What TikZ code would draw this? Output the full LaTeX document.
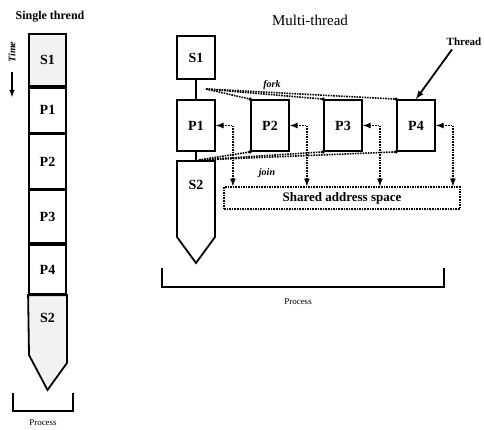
\documentclass[tikz,border=0pt]{standalone}
\usepackage{fontspec}
\setmainfont{Liberation Serif}
\begin{document}
\begin{tikzpicture}[x=1pt,y=-1pt,
    blocco/.style={draw,line width=1.8pt,minimum width=38pt,inner sep=0pt,font=\fontsize{14}{16}\selectfont\bfseries},
    grigio/.style={fill=gray!10},
    punt/.style={densely dotted,line width=1.6pt},
    freccia/.style={punt,latex-latex},
    etich/.style={font=\fontsize{9}{11}\selectfont}]
    \useasboundingbox (0,0) rectangle (484,430);
    %colonna single thread
    \node[font=\fontsize{12}{14}\selectfont\bfseries] (tsingle) at (50,17) {Single thrend};
    \node[blocco,grigio,minimum width=37pt,minimum height=52pt] (ls1) at (47.5,60) {S1};
    \node[blocco,minimum width=37pt,minimum height=45pt,anchor=north] (lp1) at (ls1.south) {P1};
    \node[blocco,minimum width=37pt,minimum height=54pt,anchor=north] (lp2) at (lp1.south) {P2};
    \node[blocco,minimum width=37pt,minimum height=53pt,anchor=north] (lp3) at (lp2.south) {P3};
    \node[blocco,minimum width=37pt,minimum height=49pt,anchor=north] (lp4) at (lp3.south) {P4};
    \draw[line width=1.8pt,grigio] (lp4.south west) -- (lp4.south east) --++ (0,68) -- (47.5,390) -- (29,355) -- cycle;
    \node[font=\fontsize{14}{16}\selectfont\bfseries] (ls2) at (47.5,318) {S2};
    %tempo
    \node[rotate=90,font=\fontsize{10}{12}\selectfont\bfseries\itshape] (ltime) at (12,52) {Time};
    \draw[-latex,line width=1.4pt] (12,72) -- (12,97);
    %parentesi
    \draw[line width=1.4pt] (13,393) -- (13,411) -- (73,411) -- (73,393);
    \node[etich] (lproc) at (43,423) {Process};
    %colonna multi thread
    \node[font=\fontsize{15}{17}\selectfont] (tmulti) at (310,20) {Multi-thread};
    \node[blocco,minimum height=43pt] (s1) at (196,57.5) {S1};
    \node[blocco,minimum height=51pt] (p1) at (196,125.5) {P1};
    \node[blocco,minimum height=51pt] (p2) at (270,125.5) {P2};
    \node[blocco,minimum height=51pt] (p3) at (343,125.5) {P3};
    \node[blocco,minimum height=51pt] (p4) at (416,125.5) {P4};
    \draw[line width=1.8pt] (177,161) -- (215,161) -- (215,237) -- (196,263) -- (177,237) -- cycle;
    \node[font=\fontsize{14}{16}\selectfont\bfseries] (s2) at (196,185) {S2};
    \coordinate (s2top) at (196,161);
    \draw[line width=1.4pt] (s1.south) -- (p1.north);
    \draw[line width=1.4pt] (p1.south) -- (s2top);
    %fork e join
    \coordinate (fk) at (206,89);
    \coordinate (jn) at (199,160);
    \foreach \p in {p2,p3,p4}{
        \draw[punt] (fk) -- (\p.north west);
        \fill (\p.north west) circle (1.8pt);
        \draw[punt] (jn) -- (\p.south west);
        \fill (\p.south west) circle (1.8pt);
    }
    \node[font=\fontsize{10}{12}\selectfont\bfseries\itshape] (lfork) at (272,85) {fork};
    \node[font=\fontsize{10}{12}\selectfont\bfseries\itshape] (ljoin) at (267,173) {join};
    %spazio condiviso
    \node[draw,punt,minimum width=236pt,minimum height=22pt,font=\fontsize{13}{15}\selectfont\bfseries] (sas) at (342,198) {Shared address space};
    \foreach \p in {p1,p2,p3,p4}
        \draw[freccia] (\p.east) -| ([xshift=17pt]\p.east |- sas.north);
    %thread
    \node[font=\fontsize{11}{13}\selectfont\bfseries] (thr) at (464,42) {Thread};
    \draw[-latex,line width=1.8pt] ([xshift=-12pt]thr.south) -- (p4.north);
    %parentesi
    \draw[line width=1.4pt] (162,268) -- (162,287) -- (444,287) -- (444,268);
    \node[etich] (mproc) at (298,302) {Process};
\end{tikzpicture}
\end{document}
